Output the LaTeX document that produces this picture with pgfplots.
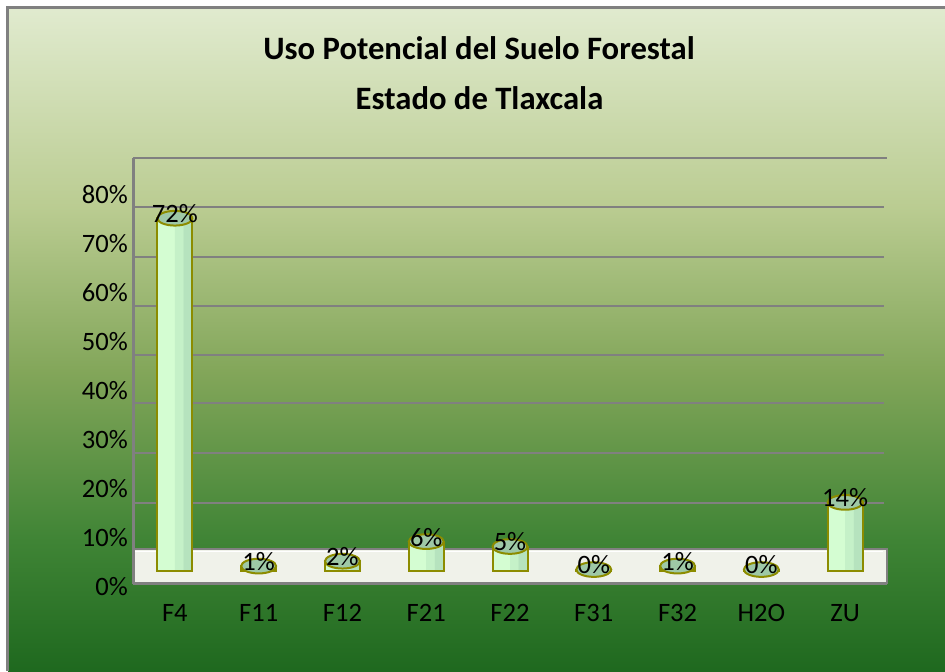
\documentclass[border=0pt]{standalone}
\usepackage{pgfplots}
\pgfplotsset{compat=1.18}
\usepackage{fontspec}
\setmainfont{Carlito}
\definecolor{olivebar}{RGB}{140,140,0}
\definecolor{barL}{RGB}{212,253,210}
\definecolor{barM}{RGB}{197,241,200}
\definecolor{barR}{RGB}{182,227,190}
\definecolor{captop}{RGB}{158,200,166}
\definecolor{gridgray}{RGB}{128,128,128}
\definecolor{floorc}{RGB}{240,242,234}
\pgfdeclareverticalshading{bgshade}{100bp}{rgb(0bp)=(0.12,0.41,0.12); rgb(25bp)=(0.12,0.41,0.12); rgb(35bp)=(0.25,0.52,0.21); rgb(47.5bp)=(0.51,0.65,0.35); rgb(60bp)=(0.73,0.80,0.57); rgb(75bp)=(0.88,0.92,0.81); rgb(100bp)=(0.88,0.92,0.81)}
\newcommand\lbl{\fontsize{19.9pt}{24pt}\selectfont}
\begin{document}
\begin{tikzpicture}[x=0.75pt,y=0.75pt]
\useasboundingbox (0,0) rectangle (945,671);
\fill[white] (0,0) rectangle (945,671);
\shade[shading=bgshade] (8,0) rectangle (945,663);
\draw[gridgray, line width=2.25pt] (7.5,0) -- (7.5,663.5) -- (945,663.5);
\node[anchor=base, font=\fontsize{24.5pt}{30pt}\selectfont\bfseries] at (479,611) {Uso Potencial del Suelo Forestal};
\node[anchor=base, font=\fontsize{24.5pt}{30pt}\selectfont\bfseries] at (479.5,561) {Estado de Tlaxcala};
\begin{axis}[
  at={(99.75pt,62.14pt)}, anchor=south west,
  scale only axis, width=565.5pt, height=322.6pt,
  xmin=-0.5, xmax=8.5, ymin=-3.5, ymax=84.29,
  axis line style={draw=none},
  major tick length=0pt,
  clip=false,
  xtick={0,1,2,3,4,5,6,7,8},
  xticklabels={F4,F11,F12,F21,F22,F31,F32,H2O,ZU},
  ytick={-3.1,6.9,16.9,26.9,36.9,46.9,56.9,66.9,76.9},
  yticklabels={0\%,10\%,20\%,30\%,40\%,50\%,60\%,70\%,80\%},
  xticklabel style={font=\lbl, anchor=center, inner sep=0pt, yshift=-18.6pt},
  yticklabel style={font=\lbl, anchor=east, inner sep=0pt, xshift=-3.75pt},
]
% back wall gridlines
\draw[gridgray, line width=1.5pt] (axis cs:-0.5,13.9) -- (axis cs:8.47,13.9);
\draw[gridgray, line width=1.5pt] (axis cs:-0.5,24.1) -- (axis cs:8.47,24.1);
\draw[gridgray, line width=1.5pt] (axis cs:-0.5,34.3) -- (axis cs:8.47,34.3);
\draw[gridgray, line width=1.5pt] (axis cs:-0.5,44.1) -- (axis cs:8.47,44.1);
\draw[gridgray, line width=1.5pt] (axis cs:-0.5,54.1) -- (axis cs:8.47,54.1);
\draw[gridgray, line width=1.5pt] (axis cs:-0.5,64.1) -- (axis cs:8.47,64.1);
\draw[gridgray, line width=1.5pt] (axis cs:-0.5,74.3) -- (axis cs:8.47,74.3);
\draw[gridgray, line width=1.5pt] (axis cs:-0.5,84.29) -- (axis cs:8.5,84.29);
% floor
\fill[floorc] (axis cs:-0.5,-2.65) rectangle (axis cs:8.5,4.49);
\draw[gridgray, line width=1.5pt] (axis cs:-0.5,4.49) -- (axis cs:8.5,4.49) -- (axis cs:8.5,-2.65);
\draw[white, line width=0.75pt] (axis cs:-0.5,4.0) -- (axis cs:8.45,4.0);
\draw[gridgray, line width=2.25pt] (axis cs:-0.5,-2.65) -- (axis cs:8.5,-2.65);
\draw[gridgray, line width=2.25pt] (axis cs:-0.5,84.29) -- (axis cs:-0.5,-2.65);
% cylinders: body, shading stripes, outline
\addplot[ybar, bar width=26.25pt, bar shift=0pt, draw=none, fill=barL]
  coordinates {(0,72) (1,1) (2,2) (3,6) (4,5) (5,0.3) (6,1) (7,0.3) (8,14)};
\addplot[ybar, bar width=6.3pt, bar shift=3.15pt, draw=none, fill=barM]
  coordinates {(0,72) (1,1) (2,2) (3,6) (4,5) (5,0.3) (6,1) (7,0.3) (8,14)};
\addplot[ybar, bar width=6.8pt, bar shift=9.7pt, draw=none, fill=barR]
  coordinates {(0,72) (1,1) (2,2) (3,6) (4,5) (5,0.3) (6,1) (7,0.3) (8,14)};
\addplot[ybar, bar width=26.25pt, bar shift=0pt, draw=olivebar, line width=1.5pt, fill=none]
  coordinates {(0,72) (1,1) (2,2) (3,6) (4,5) (5,0.3) (6,1) (7,0.3) (8,14)};
\addplot[only marks, mark=*, mark size=13.1pt,
  mark options={yscale=0.42, fill=captop, draw=olivebar, line width=1.5pt},
  point meta=explicit symbolic, nodes near coords,
  nodes near coords style={font=\lbl, anchor=center, inner sep=0pt, yshift=3.4pt, text=black}]
  coordinates {(0,72) [72\%] (1,1) [1\%] (2,2) [2\%] (3,6) [6\%] (4,5) [5\%] (5,0.3) [0\%] (6,1) [1\%] (7,0.3) [0\%] (8,14) [14\%]};
\end{axis}
\end{tikzpicture}
\end{document}
